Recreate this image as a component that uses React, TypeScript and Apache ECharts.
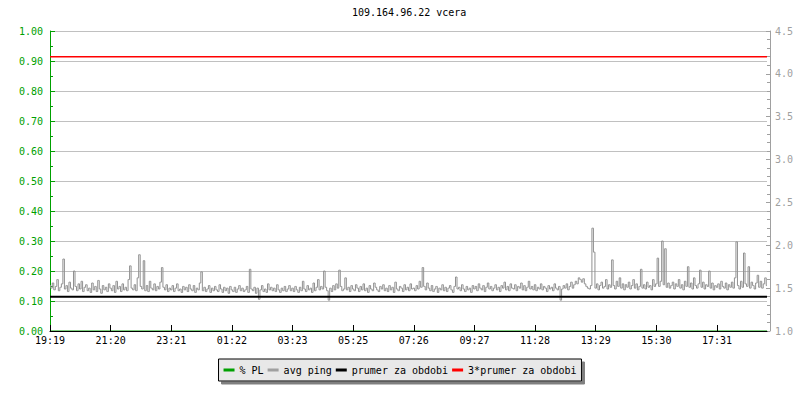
import React, { useEffect, useRef } from "react";
import * as echarts from "echarts";

const chartTitle = "109.164.96.22 vcera";
const tickLabels = ["19:19", "21:20", "23:21", "01:22", "03:23", "05:25", "07:26", "09:27", "11:28", "13:29", "15:30", "17:31"];
const tickStep = 40;
const lastIndex = 473;
const leftTicks = [0, 1, 0.1];
const rightTicks = [1, 4.5, 0.5];

const pingValues = [
  1.53, 1.50, 1.56, 1.48, 1.52, 1.60, 1.47, 1.51, 1.55, 1.84,
  1.49, 1.53, 1.46, 1.57, 1.50, 1.48, 1.70, 1.52, 1.47, 1.55,
  1.49, 1.58, 1.46, 1.51, 1.54, 1.47, 1.50, 1.45, 1.56, 1.48,
  1.52, 1.46, 1.59, 1.49, 1.44, 1.53, 1.48, 1.51, 1.46, 1.55,
  1.50, 1.47, 1.53, 1.45, 1.58, 1.49, 1.52, 1.46, 1.55, 1.48,
  1.51, 1.47, 1.60, 1.76, 1.50, 1.48, 1.54, 1.47, 1.62, 1.89,
  1.52, 1.49, 1.82, 1.47, 1.53, 1.46, 1.58, 1.50, 1.48, 1.55,
  1.47, 1.52, 1.49, 1.57, 1.74, 1.51, 1.48, 1.54, 1.46, 1.50,
  1.48, 1.53, 1.46, 1.50, 1.55, 1.47, 1.49, 1.45, 1.52, 1.48,
  1.51, 1.46, 1.54, 1.49, 1.47, 1.53, 1.45, 1.50, 1.48, 1.56,
  1.69, 1.47, 1.51, 1.46, 1.49, 1.53, 1.45, 1.50, 1.47, 1.52,
  1.48, 1.46, 1.54, 1.49, 1.45, 1.51, 1.47, 1.50, 1.44, 1.52,
  1.48, 1.46, 1.51, 1.45, 1.49, 1.53, 1.47, 1.50, 1.46, 1.48,
  1.52, 1.45, 1.72, 1.49, 1.47, 1.51, 1.44, 1.50, 1.37, 1.48,
  1.53, 1.46, 1.49, 1.45, 1.55, 1.48, 1.51, 1.47, 1.50, 1.46,
  1.54, 1.48, 1.45, 1.50, 1.47, 1.52, 1.46, 1.49, 1.53, 1.47,
  1.50, 1.46, 1.52, 1.48, 1.45, 1.51, 1.47, 1.58, 1.49, 1.46,
  1.53, 1.48, 1.50, 1.45, 1.56, 1.47, 1.51, 1.60, 1.48, 1.52,
  1.49, 1.70, 1.51, 1.47, 1.36, 1.50, 1.46, 1.53, 1.48, 1.55,
  1.50, 1.71, 1.52, 1.47, 1.49, 1.62, 1.48, 1.51, 1.46, 1.53,
  1.49, 1.47, 1.54, 1.50, 1.46, 1.52, 1.48, 1.55, 1.47, 1.50,
  1.45, 1.53, 1.49, 1.47, 1.56, 1.51, 1.48, 1.46, 1.52, 1.49,
  1.54, 1.47, 1.50, 1.46, 1.53, 1.48, 1.51, 1.45, 1.57, 1.49,
  1.47, 1.52, 1.50, 1.46, 1.54, 1.48, 1.51, 1.47, 1.55, 1.49,
  1.50, 1.47, 1.53, 1.49, 1.58, 1.51, 1.74, 1.52, 1.48, 1.56,
  1.50, 1.47, 1.53, 1.46, 1.49, 1.52, 1.45, 1.50, 1.48, 1.54,
  1.47, 1.51, 1.46, 1.50, 1.53, 1.48, 1.45, 1.52, 1.63, 1.49,
  1.51, 1.47, 1.54, 1.49, 1.46, 1.52, 1.48, 1.50, 1.45, 1.53,
  1.49, 1.52, 1.47, 1.55, 1.50, 1.48, 1.53, 1.46, 1.51, 1.56,
  1.49, 1.52, 1.47, 1.50, 1.54, 1.48, 1.51, 1.46, 1.53, 1.50,
  1.57, 1.48, 1.52, 1.47, 1.55, 1.50, 1.49, 1.54, 1.47, 1.52,
  1.50, 1.56, 1.48, 1.53, 1.47, 1.51, 1.58, 1.49, 1.52, 1.48,
  1.54, 1.47, 1.51, 1.49, 1.55, 1.48, 1.52, 1.50, 1.46, 1.53,
  1.49, 1.51, 1.47, 1.55, 1.50, 1.48, 1.52, 1.36, 1.49, 1.53,
  1.50, 1.55, 1.48, 1.52, 1.57, 1.50, 1.54, 1.58, 1.55, 1.62,
  1.60, 1.57, 1.61, 1.55, 1.52, 1.50, 1.49, 1.53, 2.20, 1.92,
  1.50, 1.55, 1.48, 1.53, 1.57, 1.50, 1.52, 1.60, 1.49, 1.54,
  1.51, 1.83, 1.53, 1.49, 1.58, 1.52, 1.62, 1.50, 1.55, 1.48,
  1.54, 1.51, 1.57, 1.49, 1.53, 1.60, 1.50, 1.55, 1.48, 1.52,
  1.72, 1.50, 1.54, 1.49, 1.57, 1.51, 1.53, 1.48, 1.60, 1.52,
  1.55, 1.85, 1.52, 1.58, 2.05, 1.54, 1.96, 1.51, 1.56, 1.50,
  1.53, 1.57, 1.49, 1.55, 1.52, 1.60, 1.50, 1.54, 1.48, 1.58,
  1.52, 1.75, 1.51, 1.56, 1.49, 1.62, 1.53, 1.50, 1.55, 1.71,
  1.51, 1.57, 1.49, 1.54, 1.52, 1.70, 1.50, 1.56, 1.48, 1.53,
  1.51, 1.55, 1.49, 1.58, 1.52, 1.50, 1.56, 1.48, 1.54, 1.51,
  1.57, 1.50, 1.62, 2.04, 1.53, 1.49, 1.58, 1.51, 1.91, 1.55,
  1.52, 1.75, 1.50, 1.57, 1.53, 1.49, 1.56, 1.65, 1.51, 1.58,
  1.50, 1.55, 1.62, 1.53,
];
const plValues = [0, 0];
const avgPeriod = [1.40, 1.40];
const tripleAvg = [4.20, 4.20];
const seriesNames = ["% PL", "avg ping", "prumer za obdobi", "3*prumer za obdobi"];
const seriesColors = ["#00a000", "#909090", "#000000", "#ff0000"];

const FONT = "DejaVu Sans Mono";

export default function App() {
  const ref = useRef<HTMLDivElement>(null);
  useEffect(() => {
    document.body.style.margin = "0";
    const chart = echarts.init(ref.current!, null, { renderer: "svg" });
    const ends = [0, lastIndex];
    const tickValues = tickLabels.map((_, i) => i * tickStep);
    chart.setOption({
      animation: false,
      backgroundColor: "#ffffff",
      textStyle: { fontFamily: FONT },
      title: {
        text: chartTitle,
        left: 352,
        top: 7,
        padding: 0,
        textStyle: { fontFamily: FONT, fontSize: 10, fontWeight: "normal", color: "#000" },
      },
      legend: {
        data: seriesNames.map((name, i) => ({ name, itemStyle: { color: i === 1 ? "#a0a0a0" : seriesColors[i] } })),
        left: "center",
        top: 359,
        icon: "rect",
        itemWidth: 11,
        itemHeight: 3,
        itemGap: 4,
        padding: [6, 5, 6, 5],
        backgroundColor: "#e8e8e8",
        borderColor: "#000",
        borderWidth: 1,
        borderRadius: 0,
        shadowColor: "#808080",
        shadowBlur: 0,
        shadowOffsetX: 3,
        shadowOffsetY: 3,
        textStyle: { fontFamily: FONT, fontSize: 10, color: "#000" },
      },
      grid: { left: 50, right: 33, top: 31, height: 300, containLabel: false },
      xAxis: {
        type: "value",
        min: 0,
        max: lastIndex,
        interval: tickStep,
        z: 5,
        axisLine: { lineStyle: { color: "#000", width: 1 } },
        axisTick: { inside: true, length: 6, lineStyle: { color: "#000" }, customValues: tickValues },
        axisLabel: {
          customValues: tickValues,
          margin: 4,
          fontFamily: FONT,
          fontSize: 10,
          color: "#000",
          formatter: (v: number) => tickLabels[Math.round(v / tickStep)] ?? "",
        },
        splitLine: { show: false },
      },
      yAxis: [
        {
          type: "value",
          min: leftTicks[0],
          max: leftTicks[1],
          interval: leftTicks[2],
          position: "left",
          axisLine: { show: true, lineStyle: { color: "#00a000", width: 1 } },
          axisTick: { show: true, inside: true, length: 5, lineStyle: { color: "#00a000" } },
          minorTick: { show: true, splitNumber: 2, length: 3, lineStyle: { color: "#00a000" } },
          axisLabel: { margin: 7, fontFamily: FONT, fontSize: 10, color: "#00a000", formatter: (v: number) => v.toFixed(2) },
          splitLine: { show: true, lineStyle: { color: "#c0c0c0", width: 1 } },
        },
        {
          type: "value",
          min: rightTicks[0],
          max: rightTicks[1],
          interval: rightTicks[2],
          position: "right",
          offset: 3,
          axisLine: { show: true, lineStyle: { color: "#a0a0a0", width: 1 } },
          axisTick: { show: true, inside: true, length: 4, lineStyle: { color: "#a0a0a0" } },
          minorTick: { show: true, splitNumber: 5, length: 3, lineStyle: { color: "#a0a0a0" } },
          axisLabel: { margin: 5, fontFamily: FONT, fontSize: 10, color: "#a0a0a0", formatter: (v: number) => v.toFixed(1) },
          splitLine: { show: false },
        },
      ],
      series: [
        {
          name: seriesNames[0],
          type: "line",
          yAxisIndex: 0,
          color: seriesColors[0],
          showSymbol: false,
          z: 1,
          lineStyle: { width: 1 },
          data: plValues.map((v, i) => [ends[i], v]),
        },
        {
          name: seriesNames[1],
          type: "line",
          yAxisIndex: 1,
          color: seriesColors[1],
          showSymbol: false,
          step: "middle",
          lineStyle: { width: 1 },
          data: pingValues.map((v, i) => [i, v]),
        },
        {
          name: seriesNames[2],
          type: "line",
          yAxisIndex: 1,
          color: seriesColors[2],
          showSymbol: false,
          lineStyle: { width: 2 },
          data: avgPeriod.map((v, i) => [ends[i], v]),
        },
        {
          name: seriesNames[3],
          type: "line",
          yAxisIndex: 1,
          color: seriesColors[3],
          showSymbol: false,
          lineStyle: { width: 1.5 },
          data: tripleAvg.map((v, i) => [ends[i], v]),
        },
      ],
    });
    return () => chart.dispose();
  }, []);
  return <div ref={ref} style={{ width: 800, height: 400 }} />;
}
